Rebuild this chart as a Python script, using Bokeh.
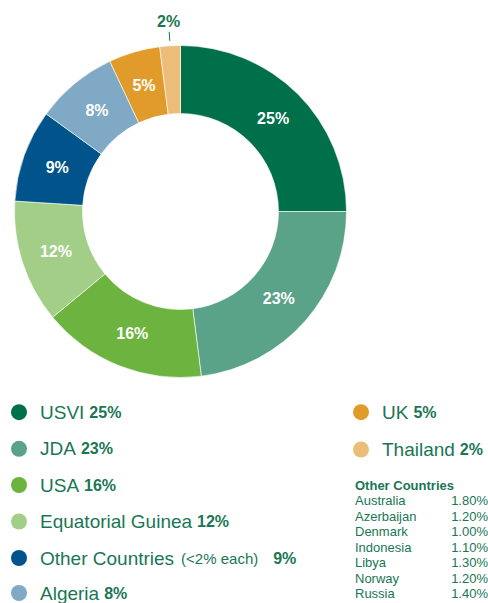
import math
from bokeh.plotting import figure
from bokeh.models import Range1d, ColumnDataSource
from bokeh.core.properties import value
from bokeh.embed import file_html
from bokeh.resources import INLINE

# ---- data ----
countries = ["USVI", "JDA", "USA", "Equatorial Guinea", "Other Countries", "Algeria", "UK", "Thailand"]
shares = [25, 23, 16, 12, 9, 8, 5, 2]
colors = ["#00704A", "#5AA389", "#6CB33F", "#A2CE87", "#00548B", "#7FA9C5", "#E19B2A", "#ECBD79"]
label_texts = ["25%", "23%", "16%", "12%", "9%", "8%", "5%", "2%"]

other_names = ["Australia", "Azerbaijan", "Denmark", "Indonesia", "Libya", "Norway", "Russia"]
other_values = [1.80, 1.20, 1.00, 1.10, 1.30, 1.20, 1.40]

TXT = "#1A7654"
FONT = "Liberation Sans"

W, H = 488, 603
p = figure(width=W, height=H, output_backend="svg", toolbar_location=None,
           x_range=Range1d(0, 488), y_range=Range1d(0, 603), min_border=0)
p.axis.visible = False
p.grid.visible = False
p.outline_line_color = None
p.background_fill_color = "white"

def Y(sy):
    return 603 - sy

CX, CY = 180, Y(211)
R_OUT, R_IN = 166, 98

total = sum(shares)
starts, ends, mids = [], [], []
cum = 0
for s in shares:
    a0 = math.pi / 2 - 2 * math.pi * cum / total
    cum += s
    a1 = math.pi / 2 - 2 * math.pi * cum / total
    starts.append(a0)
    ends.append(a1)
    mids.append((a0 + a1) / 2)

src = ColumnDataSource(dict(start=starts, end=ends, color=colors))
p.annular_wedge(x=CX, y=CY, inner_radius=R_IN, outer_radius=R_OUT,
                inner_radius_units="screen", outer_radius_units="screen",
                start_angle="start", end_angle="end", direction="clock",
                fill_color="color", line_color="white", line_width=0.6, source=src)

# labels inside ring (all but last small slice)
lx, ly, lt = [], [], []
for i, t in enumerate(label_texts[:-1]):
    r = 131
    lx.append(CX + r * math.cos(mids[i]))
    ly.append(CY + r * math.sin(mids[i]))
    lt.append(t)
p.text(x=lx, y=ly, text=lt, text_color="white", text_font=value(FONT),
       text_font_style="bold", text_font_size="16px", text_align="center",
       text_baseline="middle")

# outside label for smallest slice
m = mids[-1]
p.text(x=[CX + 190 * math.cos(m)], y=[CY + 190 * math.sin(m)], text=[label_texts[-1]],
       text_color=TXT, text_font=value(FONT), text_font_style="bold",
       text_font_size="16px", text_align="center", text_baseline="middle")
p.segment(x0=[CX + 171 * math.cos(m)], y0=[CY + 171 * math.sin(m)],
          x1=[CX + 180 * math.cos(m)], y1=[CY + 180 * math.sin(m)],
          line_color=TXT, line_width=1)

# ---- legend ----
AW = {' ': 278, '%': 889, '(': 333, ')': 333, '<': 584, '2': 556,
      'A': 667, 'C': 722, 'D': 722, 'E': 667, 'G': 778, 'I': 278, 'J': 500,
      'K': 667, 'O': 778, 'S': 667, 'T': 611, 'U': 722, 'V': 667,
      'a': 556, 'c': 500, 'd': 556, 'e': 556, 'g': 556, 'h': 556, 'i': 222,
      'l': 222, 'n': 556, 'o': 556, 'q': 556, 'r': 333, 's': 500, 't': 278, 'u': 556}

def tw(s, size):
    return sum(AW.get(c, 556) for c in s) / 1000 * size

NAME_SIZE = 19
rows_left = list(range(6))
rows_right = [6, 7]
left_y = [411.7, 448.3, 484.5, 521, 557.5, 592.5]
right_y = [411.7, 449]

def legend_item(i, cx, sy):
    p.scatter(x=[cx], y=[Y(sy)], size=16, marker="circle", fill_color=colors[i], line_color=None)
    tx = cx + 21
    p.text(x=[tx], y=[Y(sy)], text=[countries[i]], text_color=TXT, text_font=value(FONT),
           text_font_size=f"{NAME_SIZE}px", text_baseline="middle", text_align="left")
    px = tx + tw(countries[i], NAME_SIZE) + 5
    if countries[i] == "Other Countries":
        note = "(<2% each)"
        p.text(x=[px + 2], y=[Y(sy)], text=[note], text_color=TXT, text_font=value(FONT),
               text_font_size="15px", text_baseline="middle", text_align="left")
        px = px + 2 + tw(note, 15) + 15
    p.text(x=[px], y=[Y(sy)], text=[f"{shares[i]}%"], text_color=TXT, text_font=value(FONT),
           text_font_style="bold", text_font_size="16px", text_baseline="middle", text_align="left")

for k, i in enumerate(rows_left):
    legend_item(i, 18.5, left_y[k])
for k, i in enumerate(rows_right):
    legend_item(i, 360.5, right_y[k])

# other countries table
p.text(x=[354.5], y=[Y(485.2)], text=["Other Countries"], text_color=TXT, text_font=value(FONT),
       text_font_style="bold", text_font_size="13px", text_baseline="middle", text_align="left")
ty = [Y(500 + 15.5 * k) for k in range(len(other_names))]
p.text(x=[354.5] * len(other_names), y=ty, text=other_names, text_color=TXT, text_font=value(FONT),
       text_font_size="13px", text_baseline="middle", text_align="left")
p.text(x=[487.5] * len(other_names), y=ty, text=[f"{v:.2f}%" for v in other_values],
       text_color=TXT, text_font=value(FONT), text_font_size="13px",
       text_baseline="middle", text_align="right")

open("out.html", "w").write(file_html(p, INLINE))
